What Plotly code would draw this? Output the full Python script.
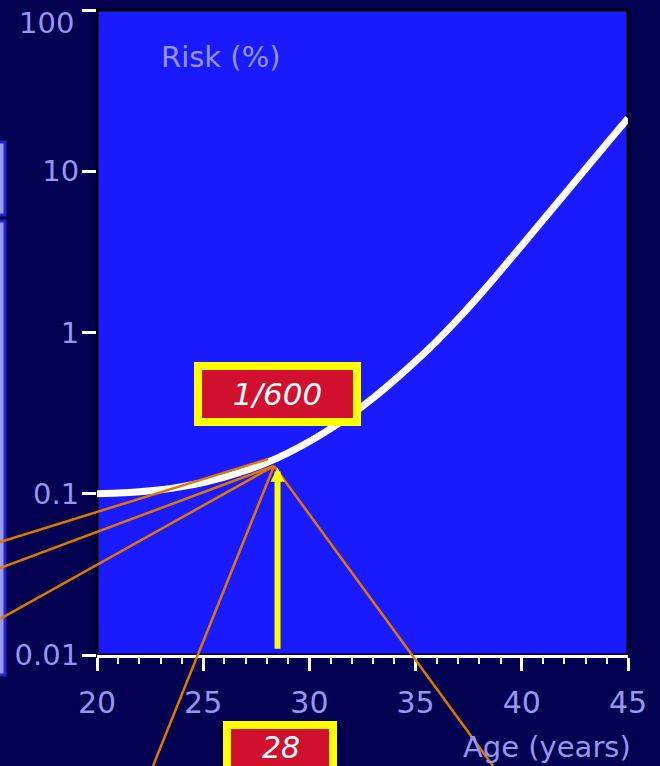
import plotly.graph_objects as go
import math

# ---------------- data ----------------
ages = list(range(20, 46))
risk_pct = [0.1000, 0.1009, 0.1028, 0.1059, 0.1107, 0.1175, 0.1268, 0.1393, 0.1563, 0.1795,
            0.2109, 0.2535, 0.3119, 0.3926, 0.5058, 0.664, 0.887, 1.213, 1.698, 2.415,
            3.467, 4.989, 7.178, 10.33, 14.86, 21.28]
x_ticks = [20, 25, 30, 35, 40, 45]
x_ticklabels = ["20", "25", "30", "35", "40", "45"]
y_ticks = [0.01, 0.1, 1, 10, 100]
y_ticklabels = ["0.01", "0.1", "1", "10", ""]
top_label = "100"
risk_title = "Risk (%)"
age_title = "Age (years)"
callout_text = "1/600"
age_label = "28"
arrow_age = 28.5
arrow_tip = 0.145
arrow_base = 0.0107

# ---------------- style ----------------
W, H = 660, 766
L, R, T, B = 97, 32, 10, 111
PW = W - L - R
PH = H - T - B
NAVY = "#020050"
BLUE = "#1a1aff"
LAV = "#9696f0"
RED = "#d11030"
YEL = "#ffff00"
ORANGE = "#e07800"
FONT = "DejaVu Sans"


def px(x):
    return (x - L) / PW


def py(y):
    return (T + PH - y) / PH


fig = go.Figure()
fig.add_trace(go.Scatter(x=ages, y=risk_pct, mode="lines",
                         line=dict(color="white", width=7, shape="spline"),
                         hoverinfo="skip", showlegend=False))

shapes = []
# black frame around the plot area
shapes.append(dict(type="rect", xref="paper", yref="paper", x0=0, x1=1, y0=0, y1=1,
                   line=dict(color="black", width=3), layer="below"))
# partial slide boxes at the left edge
for (y0, y1) in [(142, 215), (221, 675)]:
    shapes.append(dict(type="rect", xref="paper", yref="paper",
                       x0=px(-20), x1=px(5), y0=py(y1), y1=py(y0),
                       fillcolor="#9a9af0", line=dict(color="#2424c8", width=3),
                       layer="above"))
# orange callout lines
for (x0, y0, x1, y1) in [(0, 542, 268, 459), (0, 568, 274, 466), (0, 619, 274, 466),
                         (153, 766, 274, 466), (274, 466, 493, 766)]:
    shapes.append(dict(type="line", xref="paper", yref="paper",
                       x0=px(x0), y0=py(y0), x1=px(x1), y1=py(y1),
                       line=dict(color=ORANGE, width=2.5), layer="above"))
# "28" box (runs off the bottom edge)
shapes.append(dict(type="rect", xref="paper", yref="paper",
                   x0=px(223), x1=px(337), y0=py(800), y1=py(721),
                   fillcolor=YEL, line=dict(width=0), layer="above"))
shapes.append(dict(type="rect", xref="paper", yref="paper",
                   x0=px(231), x1=px(329), y0=py(800), y1=py(729),
                   fillcolor=RED, line=dict(width=0), layer="above"))

annotations = []
annotations.append(dict(text=top_label, xref="paper", yref="paper", x=px(76), y=py(23),
                        xanchor="right", yanchor="middle", showarrow=False,
                        font=dict(family=FONT, size=29, color=LAV)))
annotations.append(dict(text=risk_title, xref="paper", yref="paper", x=px(221), y=py(57),
                        xanchor="center", yanchor="middle", showarrow=False,
                        font=dict(family=FONT, size=29, color=LAV)))
annotations.append(dict(text=age_title, xref="paper", yref="paper", x=px(547), y=py(747),
                        xanchor="center", yanchor="middle", showarrow=False,
                        font=dict(family=FONT, size=29, color=LAV)))
# yellow arrow
annotations.append(dict(text="", x=arrow_age, y=math.log10(arrow_tip), xref="x", yref="y",
                        ax=arrow_age, ay=math.log10(arrow_base), axref="x", ayref="y",
                        showarrow=True, arrowhead=2, arrowsize=0.47, arrowwidth=6,
                        arrowcolor=YEL))
# red boxes
annotations.append(dict(text=callout_text, xref="paper", yref="paper", x=px(277.5), y=py(394),
                        xanchor="center", yanchor="middle", showarrow=False,
                        width=151, height=48, bgcolor=RED, bordercolor=YEL,
                        borderwidth=8, borderpad=0,
                        font=dict(family=FONT, size=31, color="white", style="italic")))
annotations.append(dict(text=age_label, xref="paper", yref="paper", x=px(281), y=py(766),
                        xanchor="center", yanchor="bottom", showarrow=False,
                        borderpad=0,
                        font=dict(family=FONT, size=30, color="white", style="italic")))

fig.update_layout(
    width=W, height=H, autosize=False,
    margin=dict(l=L, r=R, t=T, b=B, pad=0),
    paper_bgcolor=NAVY, plot_bgcolor=BLUE,
    showlegend=False,
    shapes=shapes, annotations=annotations,
    xaxis=dict(range=[20, 45], tickvals=x_ticks, ticktext=x_ticklabels,
               ticks="outside", ticklen=13, tickwidth=3, tickcolor="white",
               showline=True, linecolor="white", linewidth=3,
               showgrid=False, zeroline=False, ticklabelstandoff=6,
               tickfont=dict(family=FONT, size=30, color=LAV),
               minor=dict(dtick=1, ticks="outside", ticklen=6, tickwidth=2,
                          tickcolor="white", showgrid=False)),
    yaxis=dict(type="log", range=[-2, 2], tickvals=y_ticks, ticktext=y_ticklabels,
               ticks="outside", ticklen=14, tickwidth=3, tickcolor="white",
               showline=False, showgrid=False, zeroline=False, ticklabelstandoff=-3,
               tickfont=dict(family=FONT, size=29, color=LAV)),
)

fig.write_html("out.html", config={"displayModeBar": False},
               post_script="document.body.style.margin='0';document.body.style.background='" + NAVY + "';")
